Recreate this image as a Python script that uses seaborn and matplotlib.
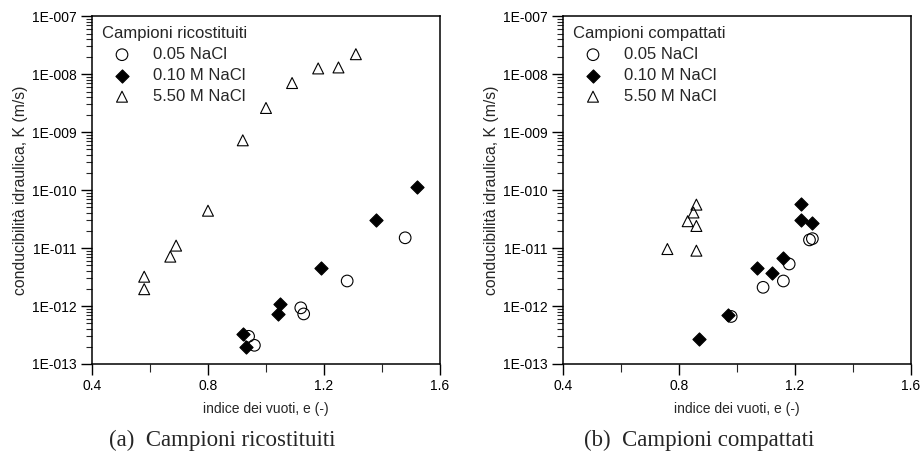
import numpy as np
import pandas as pd
import matplotlib
matplotlib.use('Agg')
import matplotlib.pyplot as plt
import matplotlib.ticker as mticker
import seaborn as sns

# --- dati ---
series = ['0.05 NaCl', '0.10 M NaCl', '5.50 M NaCl']

# (a) campioni ricostituiti
ric_e_005 = [1.48, 1.28, 1.12, 1.13, 0.94, 0.96]
ric_k_005 = [1.5e-11, 2.7e-12, 9.3e-13, 7.3e-13, 3.0e-13, 2.1e-13]
ric_e_010 = [1.52, 1.38, 1.19, 1.05, 1.04, 0.92, 0.93]
ric_k_010 = [1.15e-10, 3.1e-11, 4.6e-12, 1.1e-12, 7.2e-13, 3.3e-13, 2.0e-13]
ric_e_550 = [1.31, 1.25, 1.18, 1.09, 1.00, 0.92, 0.80, 0.69, 0.67, 0.58, 0.58]
ric_k_550 = [2.2e-8, 1.3e-8, 1.25e-8, 7.0e-9, 2.6e-9, 7.2e-10, 4.4e-11,
             1.1e-11, 7.1e-12, 3.2e-12, 1.95e-12]

# (b) campioni compattati
com_e_005 = [1.26, 1.25, 1.18, 1.16, 1.09, 0.98]
com_k_005 = [1.45e-11, 1.38e-11, 5.3e-12, 2.7e-12, 2.1e-12, 6.6e-13]
com_e_010 = [1.22, 1.22, 1.26, 1.16, 1.07, 1.12, 0.97, 0.87]
com_k_010 = [5.8e-11, 3.0e-11, 2.75e-11, 6.7e-12, 4.5e-12, 3.7e-12, 7.1e-13, 2.7e-13]
com_e_550 = [0.86, 0.85, 0.83, 0.86, 0.76, 0.86]
com_k_550 = [5.6e-11, 4.1e-11, 2.9e-11, 2.4e-11, 9.6e-12, 9.0e-12]

def make_df(e_lists, k_lists):
    rows = []
    for name, es, ks in zip(series, e_lists, k_lists):
        for e, k in zip(es, ks):
            rows.append({'e': e, 'K': k, 'serie': name})
    return pd.DataFrame(rows)

df_ric = make_df([ric_e_005, ric_e_010, ric_e_550], [ric_k_005, ric_k_010, ric_k_550])
df_com = make_df([com_e_005, com_e_010, com_e_550], [com_k_005, com_k_010, com_k_550])

sns.set_theme(style='ticks')
plt.rcParams['font.family'] = ['Liberation Sans', 'DejaVu Sans']

stili = {
    '0.05 NaCl': dict(marker='o', s=70, facecolor='none', edgecolor='black', linewidth=0.8),
    '0.10 M NaCl': dict(marker='D', s=45, facecolor='black', edgecolor='black', linewidth=0.8),
    '5.50 M NaCl': dict(marker='^', s=62, facecolor='none', edgecolor='black', linewidth=0.8),
}

fig = plt.figure(figsize=(9.21, 4.59), dpi=100)
ax1 = fig.add_axes([0.0999, 0.207, 0.3778, 0.758])
ax2 = fig.add_axes([0.6113, 0.207, 0.3778, 0.758])

def fmt_exp(v, pos):
    if v <= 0:
        return ''
    ex = int(round(np.log10(v)))
    return f'1E-{-ex:03d}'

pannelli = [
    (ax1, df_ric, 'Campioni ricostituiti', '(a)  Campioni ricostituiti', 222 / 921),
    (ax2, df_com, 'Campioni compattati', '(b)  Campioni compattati', 699 / 921),
]

for ax, df, titolo, didascalia, xc in pannelli:
    for name in series:
        sub = df[df['serie'] == name]
        sns.scatterplot(data=sub, x='e', y='K', ax=ax, label=name, **stili[name])
    ax.set_yscale('log')
    ax.set_xlim(0.4, 1.6)
    ax.set_ylim(1e-13, 1e-7)
    ax.xaxis.set_major_locator(mticker.FixedLocator([0.4, 0.8, 1.2, 1.6]))
    ax.xaxis.set_minor_locator(mticker.FixedLocator([0.6, 1.0, 1.4]))
    ax.xaxis.set_major_formatter(mticker.FormatStrFormatter('%.1f'))
    ax.yaxis.set_major_locator(mticker.LogLocator(base=10, numticks=10))
    ax.yaxis.set_minor_locator(mticker.LogLocator(base=10, subs=np.arange(2, 10), numticks=20))
    ax.yaxis.set_major_formatter(mticker.FuncFormatter(fmt_exp))
    ax.yaxis.set_minor_formatter(mticker.NullFormatter())
    ax.tick_params(which='major', direction='out', length=8, width=1, labelsize=10,
                   colors='black', top=False, right=False, pad=3)
    ax.tick_params(which='minor', direction='out', length=4, width=0.8,
                   top=False, right=False)
    ax.tick_params(axis='x', which='minor', length=6)
    for sp in ax.spines.values():
        sp.set_visible(True)
        sp.set_color('black')
        sp.set_linewidth(1.1)
    ax.set_facecolor('white')
    ax.set_xlabel('indice dei vuoti, e (-)', fontsize=10, labelpad=6)
    ax.set_ylabel('conducibilità idraulica, K (m/s)', fontsize=11.3, labelpad=3)
    ax.legend(title=titolo, loc='upper left', frameon=False, fontsize=12,
              title_fontsize=12, alignment='left', handletextpad=0.65,
              labelspacing=0.36, borderaxespad=0.2, borderpad=0.4,
              handlelength=2.4)
    fig.text(xc, 1 - 440 / 459, didascalia, ha='center', va='center',
             fontsize=16.5, family=['Liberation Serif', 'DejaVu Serif'])

fig.savefig('out.png', dpi=100, facecolor='white')
